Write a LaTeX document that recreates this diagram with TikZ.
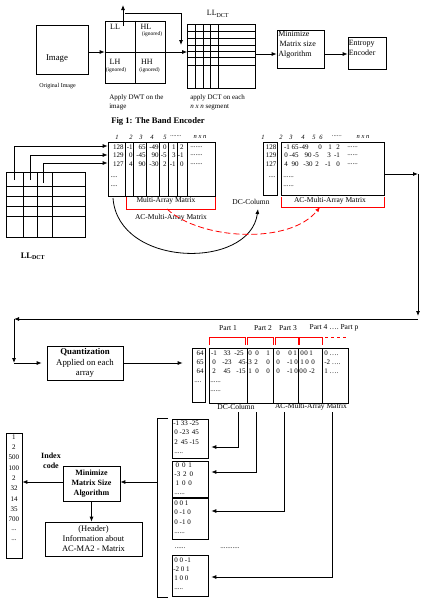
\documentclass[tikz,border=0pt]{standalone}
\usepackage{fontspec}
\setmainfont{Liberation Serif}
\usetikzlibrary{arrows.meta}
\begin{document}
\begin{tikzpicture}
[x=1pt,y=-1pt,line width=0.6pt,
 every node/.style={inner sep=0pt,font=\fontsize{7.5}{9}\selectfont},
 box/.style={draw,line width=0.7pt,align=center},
 arr/.style={-{Latex[length=5pt,width=4pt]},line width=0.8pt},
 br/.style={draw=red,line width=0.7pt},
 num/.style={font=\fontsize{7}{8}\selectfont},
 colno/.style={font=\itshape\fontsize{6.5}{7}\selectfont},
 band/.style={font=\fontsize{8}{9}\selectfont},
 ign/.style={font=\fontsize{5.5}{6}\selectfont},
]
\useasboundingbox (0,0) rectangle (423,611);

% ---- Fig 1: band encoder
\node[box,minimum width=52,minimum height=49] (img) at (62,49.5) {};
\node[font=\fontsize{8.8}{10}\selectfont] (imgtxt) at (57,59) {Image};
\node[font=\fontsize{6}{7}\selectfont] (origtxt) at (57.5,86) {Original Image};

\node[box,minimum width=60,minimum height=62] (dwt) at (135,52) {};
\draw (dwt.north) -- (dwt.south) (dwt.west) -- (dwt.east);
\node[band] (ll) at (115,27) {LL};
\node[band] (hl) at (146,27) {HL};
\node[band] (lh) at (115,62) {LH};
\node[band] (hh) at (147,62) {HH};
\node[ign] (hlign) at (152,34) {(ignored)};
\node[ign] (lhign) at (116,70) {(ignored)};
\node[ign] (hhign) at (149.5,70) {(ignored)};
\coordinate (llfoot) at (123,26);
\coordinate (lltip) at (123,5);
\coordinate (barl) at (125,13);
\coordinate (bartip) at (181,45);
\draw[arr] (llfoot) -- (lltip);
\draw[arr] (barl) -| (bartip);
\draw[arr] (img.east |- dwt.west) -- (dwt.west);

\node[box,minimum width=68,minimum height=64] (lldct) at (221.5,56) {};
\foreach \x in {195,203,210,218} \draw (\x,24) -- (\x,88);
\foreach \y in {31,38,45,51,57,65} \draw (187.5,\y) -- (255.5,\y);
\node[band] (lldcttxt) at (218,14) {LL\textsubscript{DCT}};
\draw[arr] (dwt.east) -- (lldct.west |- dwt.east);

\node[box,minimum width=47,minimum height=38] (minalg) at (300.5,49) {};
\node[align=left,anchor=west,font=\fontsize{8}{10}\selectfont] (minalgtxt) at (278,45) {Minimize\\\,Matrix size\\Algorithm};
\node[box,minimum width=38,minimum height=32] (entropy) at (367,53) {};
\node[align=left,anchor=west,font=\fontsize{8}{10}\selectfont] (entropytxt) at (348.5,48) {Entropy\\Encoder};
\draw[arr] (lldct.east |- 0,54) -- (minalg.west |- 0,54);
\draw[arr] (minalg.east |- 0,54) -- (entropy.west |- 0,54);

\node[align=left,anchor=west,font=\fontsize{7}{9.5}\selectfont] (dwttxt) at (109,102.5) {Apply DWT on the\\image};
\node[align=left,anchor=west,font=\fontsize{7}{9.5}\selectfont] (dcttxt) at (190,102.5) {apply DCT on each\\\textit{n x n} segment};
\node[font=\bfseries\fontsize{8.6}{10}\selectfont] (caption) at (158,121) {Fig 1: The Band Encoder};

% ---- LL_DCT split into arrays
\node[box,minimum width=79,minimum height=65] (lldctb) at (45.5,204.5) {};
\foreach \x in {23,37,52} \draw (\x,172) -- (\x,237);
\foreach \y in {186,196,206,216} \draw (6,\y) -- (85,\y);
\node[font=\bfseries\fontsize{8.5}{10}\selectfont] (lldctbtxt) at (33,256) {LL\textsubscript{DCT}};

\node[box,minimum width=107,minimum height=54] (mat) at (161.5,169) {};
\foreach \x in {125,133.5,146,159.5,168.5,177.5,187.5} \draw (\x,142) -- (\x,196);
\foreach \x/\t [count=\i] in {117/1,131/2,141/3,152/4,165/5} \node[colno] (mk\i) at (\x,137) {\t};
\node[colno] (mkdots) at (176,136) {.......};
\node[colno] (mkn) at (200,137) {n x n};
\foreach \x/\a/\b/\c [count=\i] in {124/128/129/127,133/-1/0/4,146/65/-45/90,159/-49/90/-30,167/0/-5/2,176/1/3/-1,184/2/-1/0}
{\node[num,anchor=east] (ma\i) at (\x,147) {\a};
 \node[num,anchor=east] (mb\i) at (\x,155.5) {\b};
 \node[num,anchor=east] (mc\i) at (\x,164) {\c};}
\foreach \y [count=\i] in {147,155.5,164} \node[num,anchor=west] (md\i) at (190,\y) {.......};
\node[num] (me1) at (114,177) {....};
\node[num] (me2) at (114,186) {....};
\coordinate (g1) at (14,180);
\coordinate (g2) at (30,180);
\coordinate (g3) at (43,183);
\draw[arr] (g1) |- (mat.west |- 0,146);
\draw[arr] (g2) |- (mat.west |- 0,155);
\draw[arr] (g3) |- (mat.west |- 0,163);
\node (multitxt) at (166,201) {Multi-Array Matrix};
\draw[br] (126,197) -- (126,209) -- (215,209) -- (215,197);
\node (acmtxt) at (171,218) {AC-Multi-Array Matrix};

\node[box,minimum width=14,minimum height=53] (dccol) at (270,168.5) {};
\node[box,minimum width=103,minimum height=53] (acmat) at (332.5,168.5) {};
\foreach \x/\t [count=\i] in {263/1,281/2,291/3,303/4,314/5,321/6} \node[colno] (nk\i) at (\x,137) {\t};
\node[colno] (nkdots) at (337,136) {......};
\node[colno] (nkn) at (363,137) {n x n};
\foreach \y/\t [count=\i] in {147/128,155.5/129,164/127} \node[num] (dv\i) at (271,\y) {\t};
\node[num] (dvdots) at (272,177) {....};
\foreach \x/\v [count=\i] in {287/-1,295/65,304/-49,320/0,330/1,338/2} \node[num] (na\i) at (\x,147) {\v};
\foreach \x/\v [count=\i] in {286/0,294/-45,308/90,316/-5,329/3,337/-1} \node[num] (nb\i) at (\x,155.5) {\v};
\foreach \x/\v [count=\i] in {286/4,295/90,308/-30,317/2,328/-1,338/0} \node[num] (nc\i) at (\x,164) {\v};
\foreach \y [count=\i] in {147,155.5,164} \node[num,anchor=west] (nd\i) at (347,\y) {......};
\node[num,anchor=west] (ne1) at (283,177) {......};
\node[num,anchor=west] (ne2) at (283,186) {......};
\draw[br] (281,197) -- (281,207) -- (384,207) -- (384,197);
\node (acmtxtb) at (330,200.5) {AC-Multi-Array Matrix};
\node (dctxt) at (251,202) {DC-Column};

\coordinate (blk) at (113,198);
\coordinate (dctip) at (258,209);
\coordinate (redfoot) at (167,209);
\coordinate (redtip) at (320,207);
\draw[arr] (blk) .. controls (118,268) and (250,270) .. (dctip);
\draw[arr,red,dash pattern=on 6pt off 3pt] (redfoot) .. controls (200,240) and (290,245) .. (redtip);

% ---- long way round to quantization
\coordinate (c1) at (418,174);
\coordinate (c2) at (418,319);
\coordinate (c3) at (14,319);
\coordinate (c4) at (14,363);
\draw[arr] (acmat.east |- c1) -- (c1);
\draw[arr,shorten >=3pt] (c1) -- (c2);
\draw[arr] (c2) -- (c3);
\draw[arr] (c3) -- (c4);

\node[box,minimum width=76,minimum height=34,font=\fontsize{8.8}{10.5}\selectfont] (quant) at (85,363) {\textbf{Quantization}\\Applied on each\\array};
\draw[arr,shorten >=5pt] (c4) -- (quant.west |- c4);

\node[box,minimum width=13,minimum height=54] (dcq) at (198.5,375) {};
\node[box,minimum width=139,minimum height=55] (acq) at (278.5,375.5) {};
\foreach \x in {247,273,298,322} \draw (\x,348) -- (\x,403);
\draw[arr,shorten >=9pt] (quant.east) -- (dcq.west |- quant.east);
\foreach \y/\t [count=\i] in {353/64,362/65,371/64} \node[num] (qv\i) at (200,\y) {\t};
\node[num,anchor=west] (qvdots) at (194,382) {....};
\foreach \x/\v [count=\i] in {214/-1,227/33,239/-25,250/0,257/0,268/1,278/0,290/0,295/1,302/0,306/0,311/1}
  \node[num] (qa\i) at (\x,353) {\v};
\foreach \x/\v [count=\i] in {214/0,227/-23,242/45,249/-3,256/2,268/0,278/0,290/-1,296/0,302/1,307/0,313/0}
  \node[num] (qb\i) at (\x,362) {\v};
\foreach \x/\v [count=\i] in {214/2,227/45,241/-15,250/1,257/0,268/0,278/0,290/-1,296/0,301/0,305/0,312/-2}
  \node[num] (qc\i) at (\x,371) {\v};
\foreach \y/\t [count=\i] in {353/0,362/-2,371/1} \node[num,anchor=west] (qp\i) at (324,\y) {\t\ \dots.};
\node[num,anchor=west] (qd1) at (210,382) {......};
\node[num,anchor=west] (qd2) at (210,391) {......};

\foreach \a/\b in {209/245,247/273,275/298,299/322} \draw[br] (\a,345) -- (\a,337) -- (\b,337) -- (\b,345);
\draw[br,dashed] (325,337) -- (347,337);
\foreach \x/\t [count=\i] in {228/Part 1,263/Part 2,288/Part 3} \node (part\i) at (\x,328) {\t};
\node (partp) at (334,328) {Part 4 ….\ Part p};
\node (dctxtq) at (236,407) {DC-Column};
\node (acmtxtq) at (311,407) {AC-Multi-Array Matrix};

% ---- the parts as separate matrices
\node[box,minimum width=36,minimum height=39] (boxa) at (190,438.5) {};
\node[box,minimum width=36,minimum height=36] (boxb) at (190,479) {};
\node[box,minimum width=36,minimum height=41] (boxc) at (190,518.5) {};
\node[box,minimum width=36,minimum height=41] (boxd) at (190,575.5) {};
\foreach \y/\t [count=\i] in {423/-1 33 -25,432/\,0 -23 \,45,442/\,2 \,45 -15} \node[num,anchor=west] (ta\i) at (173,\y) {\t};
\foreach \y/\t [count=\i] in {465/\,\,0 \,0 \,1,474/\,-3 \,2 \,0,483/\,\,1 \,0 \,0} \node[num,anchor=west] (tb\i) at (173,\y) {\t};
\foreach \y/\t [count=\i] in {503/\,0 0 1,512/\,0 -1 0,522/\,0 -1 0} \node[num,anchor=west] (tc\i) at (173,\y) {\t};
\foreach \y/\t [count=\i] in {560/\,0 0 -1,569/-2 0 1,578/\,1 0 0} \node[num,anchor=west] (td\i) at (173,\y) {\t};
\node[num,anchor=west] (ta4) at (174,453) {.....};
\node[num,anchor=west] (tb4) at (174,494) {......};
\node[num,anchor=west] (tc4) at (174,533) {......};
\node[num,anchor=west] (td4) at (174,589) {.....};
\node[num] (gapa) at (180,548) {......};
\node[num] (gapb) at (230,548) {...........};
\foreach \x/\y/\b [count=\i] in {238/447/boxa,256/472/boxb,284/511/boxc,332/577/boxd}
{\coordinate (v\i) at (\x,412);
 \draw[arr,shorten >=3pt] (v\i) |- (\b.east |- 0,\y);}

\draw (168,418) -- (157,418) -- (157,597) -- (168,597);
\coordinate (brk) at (157,482);

\node[box,minimum width=57,minimum height=35,font=\bfseries\fontsize{8}{10}\selectfont] (minsize) at (91.5,483.5) {Minimize\\Matrix Size\\Algorithm};
\node[box,minimum width=97,minimum height=34,font=\fontsize{8.5}{10}\selectfont] (header) at (93.5,539) {(Header)\\Information about\\AC-MA2 - Matrix};
\node[align=center,font=\bfseries\fontsize{8}{10}\selectfont] (idxtxt) at (51,461) {Index\\code};
\node[box,minimum width=16,minimum height=125] (idx) at (14,495.5) {};
\foreach \t [count=\i] in {1,2,500,100,2,32,14,35,700} \node[num] (iv\i) at (14,426.7+10.3*\i) {\t};
\node[num] (ivd1) at (14,530) {...};
\node[num] (ivd2) at (14,540) {...};

\draw[arr] (brk) -- (minsize.east |- brk);
\draw[arr] (minsize.west |- brk) -- (idx.east |- brk);
\draw[arr] (minsize.south) -- (minsize.south |- header.north);
\end{tikzpicture}
\end{document}
